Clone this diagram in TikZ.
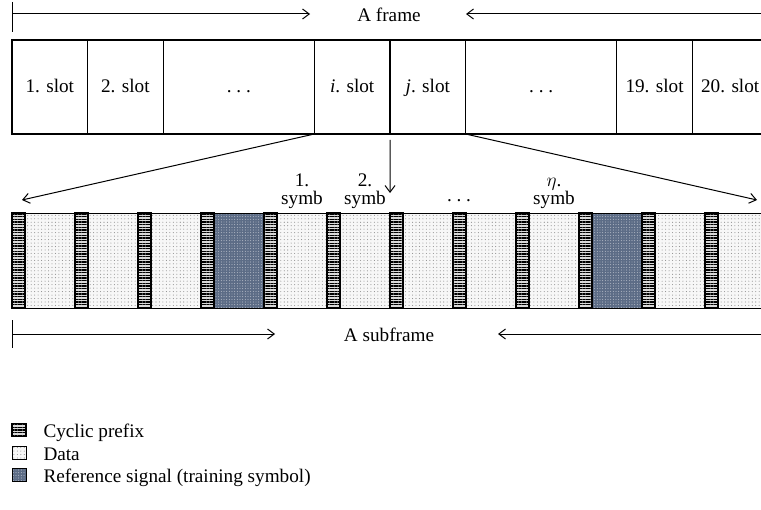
\documentclass[tikz,border=0pt]{standalone}
\usepackage{fontspec}
\setmainfont{Liberation Serif}
\usetikzlibrary{positioning,arrows.meta,patterns.meta}

\definecolor{rsblue}{RGB}{92,108,134}

\tikzset{
	slot/.style={draw, line width=0.9pt, inner sep=0, outer sep=0,
		text height=11pt, text depth=3pt,
		minimum width=56.7pt, minimum height=70.5pt, anchor=north west},
	wideslot/.style={minimum width=113.4pt},
	cpsym/.style={draw, line width=1.1pt, inner sep=0, outer sep=0,
		minimum width=9.75pt, minimum height=71.25pt,
		preaction={fill=gray!30},
		pattern={Lines[distance=2pt, line width=0.8pt]}},
	datasym/.style={draw, line width=0.6pt, inner sep=0, outer sep=0,
		minimum width=37.5pt, minimum height=71.25pt, anchor=north west,
		preaction={fill=gray!6},
		pattern={Dots[distance=2.6pt, radius=0.4pt]}, pattern color=gray!90},
	refsym/.style={datasym, preaction={fill=rsblue},
		pattern={Dots[distance=2pt, radius=0.35pt]}, pattern color=white!75!rsblue},
	symlabel/.style={align=center, inner sep=0, font=\fontsize{14.4}{13.5}\selectfont},
	legtext/.style={inner sep=0, anchor=base west},
}

\begin{document}
\begin{tikzpicture}[x=0.75pt, y=-0.75pt, font=\fontsize{14.4}{17}\selectfont,
		>={Straight Barb[length=5pt, width=7.5pt]}, line width=0.75pt]
	\useasboundingbox (0,0) rectangle (761,510);

	% the frame
	\coordinate (frL) at (12,14);
	\coordinate (frLend) at (310,14);
	\coordinate (frR) at (770,14);
	\coordinate (frRend) at (466,14);
	\draw (12,2) -- (12,32);
	\node (frtitle) at (389,15) {A frame};
	\draw[->] (frL) -- (frLend);
	\draw[->] (frR) -- (frRend);

	\node[slot] (s1) at (12,40) {1. slot};
	\node[slot, right=0pt of s1] (s2) {2. slot};
	\node[slot, wideslot, right=0pt of s2] (sdotsA) {.\ .\ .};
	\node[slot, right=0pt of sdotsA] (si) {\textit{i}. slot};
	\node[slot, right=0pt of si] (sj) {\textit{j}. slot};
	\node[slot, wideslot, right=0pt of sj] (sdotsB) {.\ .\ .};
	\node[slot, right=0pt of sdotsB] (s19) {19. slot};
	\node[slot, right=0pt of s19] (s20) {20. slot};

	% the subframe
	\foreach \k/\kind in {0/datasym,1/datasym,2/datasym,3/refsym,4/datasym,5/datasym,
			6/datasym,7/datasym,8/datasym,9/refsym,10/datasym,11/datasym}{
		\node[\kind] (sym\k) at (25+63*\k,213) {};
		\node[cpsym, left=0pt of sym\k] (cp\k) {};
	}

	\node[symlabel, above=3pt of sym4] (lab1) {1.\\symb};
	\node[symlabel, above=3pt of sym5] (lab2) {2.\\symb};
	\node[symlabel, above=3pt of sym8] (labeta) {$\eta$.\\symb};
	\node[inner sep=0, anchor=base] (symdots) at (459,201) {.\ .\ .};

	\coordinate (subL) at (22,200);
	\coordinate (subM) at (390,193);
	\coordinate (subR) at (757,200);
	\draw[->] (si.south west) -- (subL);
	\draw[->] ([yshift=-4.5pt]si.south east) -- (subM);
	\draw[->] (sj.south east) -- (subR);

	\coordinate (sfL) at (12,334);
	\coordinate (sfLend) at (275,334);
	\coordinate (sfR) at (770,334);
	\coordinate (sfRend) at (498,334);
	\draw (12,320) -- (12,348);
	\node (sftitle) at (389,335) {A subframe};
	\draw[->] (sfL) -- (sfLend);
	\draw[->] (sfR) -- (sfRend);

	% legend
	\node[cpsym, minimum width=10.5pt, minimum height=9.75pt, line width=0.8pt] (legcp) at (19,430) {};
	\node[datasym, anchor=center, minimum width=10.5pt, minimum height=9.75pt] (legdata) at (19,453) {};
	\node[refsym, anchor=center, minimum width=10.5pt, minimum height=9.75pt] (legref) at (19,475) {};
	\node[legtext] (legcptext) at (43,437) {Cyclic prefix};
	\node[legtext] (legdatatext) at (43,460) {Data};
	\node[legtext] (legreftext) at (43,482) {Reference signal (training symbol)};
\end{tikzpicture}
\end{document}
